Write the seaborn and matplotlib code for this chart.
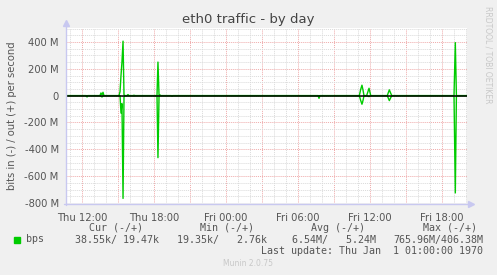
import numpy as np
import pandas as pd
import matplotlib
matplotlib.use("Agg")
import matplotlib.pyplot as plt
import seaborn as sns

# ---- data (hours relative to Thu 12:00, values in Mbit/s) ----
hours = [-1.25, 0.33, 0.42, 0.50, 1.50, 1.58, 1.67, 1.75, 1.83,
         3.08, 3.17, 3.25, 3.33, 3.42, 3.50, 3.58, 3.75, 3.83, 3.92,
         4.25, 4.33, 4.42, 6.25, 6.33, 6.42, 6.50, 6.58, 7.42, 7.50, 7.58,
         19.67, 19.75, 19.83, 23.11, 23.22, 23.33, 23.42, 23.50,
         23.72, 23.92, 24.06, 25.44, 25.61, 25.81,
         31.00, 31.11, 31.20, 32.08]
out_bps = [0, 0, 0, 0, 0, 20, 5, 25, 0,
           0, 30, 150, 250, 406, 5, 0, 0, 8, 0,
           0, 3, 0, 0, 250, 0, 5, 0, 0, 0, 0,
           0, 0, 0, 0, 45, 78, 40, 0,
           0, 55, 0, 0, 43, 0,
           0, 395, 0, 0]
in_bps = [0, 0, 10, 0, 0, 5, 10, 3, 0,
          0, 0, 130, 60, 766, 10, 0, 0, 0, 0,
          0, 3, 0, 0, 462, 0, 2, 0, 0, 5, 0,
          0, 20, 0, 0, 35, 64, 35, 0,
          0, 7, 0, 0, 37, 0,
          0, 725, 0, 0]

x_tick_labels = ["Thu 12:00", "Thu 18:00", "Fri 00:00", "Fri 06:00", "Fri 12:00", "Fri 18:00"]
y_tick_values = [-800, -600, -400, -200, 0, 200, 400]
y_tick_labels = ["-800 M", "-600 M", "-400 M", "-200 M", "0", "200 M", "400 M"]

legend_label = "bps"
cur_vals = "38.55k/ 19.47k"
min_vals = "19.35k/   2.76k"
avg_vals = "6.54M/   5.24M"
max_vals = "765.96M/406.38M"
last_update = "Last update: Thu Jan  1 01:00:00 1970"

df = pd.DataFrame({"hour": hours, "out": out_bps,
                   "in": [-v for v in in_bps]})

# ---- figure ----
sns.set_style("white")
plt.rcParams["font.family"] = ["DejaVu Sans"]
W, H = 497, 275
fig = plt.figure(figsize=(W / 100, H / 100), dpi=100, facecolor="#f0f0f0")

def fx(x):
    return x / W

def fy(y):
    return 1 - y / H

L, R, T, B = 67, 467, 28, 203
ax = fig.add_axes([fx(L), fy(B), fx(R - L), (B - T) / H])
ax.set_facecolor("white")

green = "#00cc00"
sns.lineplot(data=df, x="hour", y="out", color=green, lw=1.0, ax=ax,
             estimator=None, zorder=3)
sns.lineplot(data=df, x="hour", y="in", color=green, lw=1.0, ax=ax,
             estimator=None, zorder=3)
ax.axhline(0, color="black", lw=1.1, zorder=4)

ax.set_xlim(-1.25, -1.25 + 400 / 12)
ax.set_ylim(-800, 504)

# grid
ax.set_xticks(np.arange(0, 33, 3))
ax.set_xticks(np.arange(-1, 33, 1), minor=True)
labs = []
for i, t in enumerate(np.arange(0, 33, 3)):
    labs.append(x_tick_labels[i // 2] if i % 2 == 0 else "")
ax.set_xticklabels(labs)
ax.set_yticks(y_tick_values)
ax.set_yticklabels(y_tick_labels)
ax.set_yticks(np.arange(-800, 501, 50), minor=True)

ax.grid(which="minor", color="#dadada", lw=0.7, ls=(0, (1, 1)), zorder=1)
ax.grid(which="major", color="#efaaaa", lw=0.7, ls=(0, (1, 1)), zorder=2)
ax.set_axisbelow(True)

ax.tick_params(axis="both", which="major", colors="#efaaaa", length=2, width=0.8,
               labelcolor="#555555", labelsize=7.2, pad=4)
ax.tick_params(axis="both", which="minor", length=0)
ax.tick_params(axis="x", pad=5)
for s in ax.spines.values():
    s.set_visible(False)
ax.set_xlabel("")
ax.set_ylabel("")

# axes with arrows
axis_col = "#c8c8f0"
fig.add_artist(plt.Line2D([fx(L - 1), fx(L - 1)], [fy(B + 2), fy(24)], color=axis_col, lw=1.0))
fig.add_artist(plt.Line2D([fx(L - 3), fx(470)], [fy(B + 0.5), fy(B + 0.5)], color=axis_col, lw=1.0))
fig.add_artist(plt.Line2D([fx(L - 1)], [fy(23)], marker="^", ms=5, color=axis_col, lw=0))
fig.add_artist(plt.Line2D([fx(471)], [fy(B + 0.5)], marker=">", ms=5, color=axis_col, lw=0))

# titles
fig.text(fx(248.5), fy(20), "eth0 traffic - by day", ha="center", va="center",
         fontsize=9.5, color="#444444")
fig.text(fx(12), fy(116), "bits in (-) / out (+) per second", ha="center", va="center",
         rotation=90, fontsize=7.2, color="#555555")
fig.text(fx(488), fy(55), "RRDTOOL / TOBI OETIKER", ha="center", va="center",
         rotation=270, fontsize=5.5, color="#c8c8c8")

# legend
mono = dict(family="DejaVu Sans Mono", fontsize=7.2, color="#555555", va="center")
ylh, ylr, ylu = 228, 239.5, 251
fig.text(fx(116), fy(ylh), "Cur (-/+)", ha="center", **mono)
fig.text(fx(227), fy(ylh), "Min (-/+)", ha="center", **mono)
fig.text(fx(338), fy(ylh), "Avg (-/+)", ha="center", **mono)
fig.text(fx(450), fy(ylh), "Max (-/+)", ha="center", **mono)
fig.add_artist(plt.Rectangle((fx(14), fy(242.5)), fx(6), 6 / H, color=green,
                             transform=fig.transFigure))
fig.text(fx(26), fy(ylr), legend_label, ha="left", **mono)
fig.text(fx(159), fy(ylr), cur_vals, ha="right", **mono)
fig.text(fx(267), fy(ylr), min_vals, ha="right", **mono)
fig.text(fx(376), fy(ylr), avg_vals, ha="right", **mono)
fig.text(fx(483), fy(ylr), max_vals, ha="right", **mono)
fig.text(fx(483), fy(ylu), last_update, ha="right", **mono)
fig.text(fx(248), fy(264), "Munin 2.0.75", ha="center", va="center",
         fontsize=5.5, color="#c8c8c8")

fig.savefig("out.png", dpi=100, facecolor=fig.get_facecolor())
